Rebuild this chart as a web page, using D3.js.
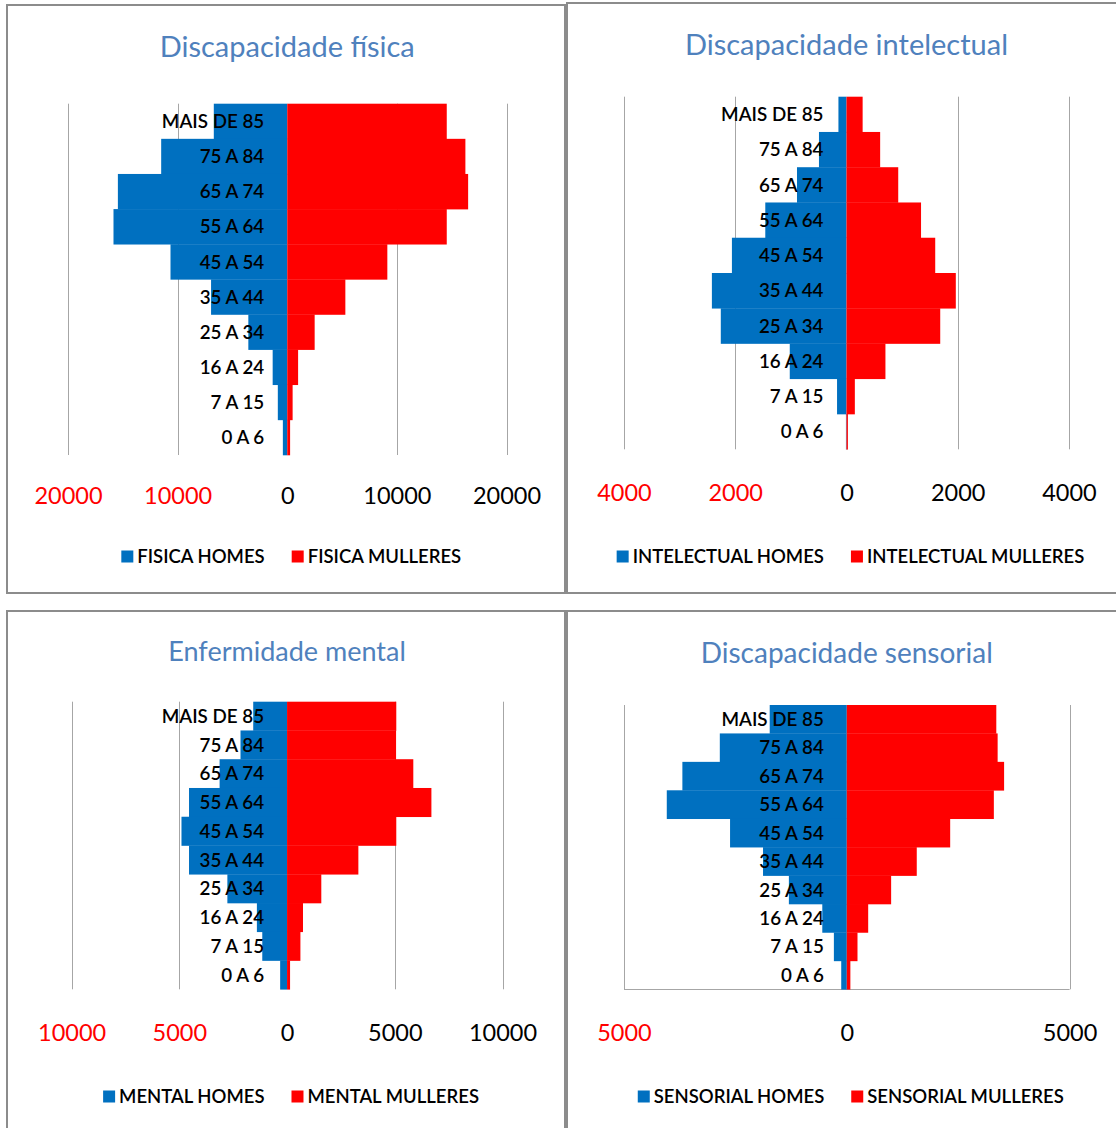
<!DOCTYPE html>
<html>
<head>
<meta charset="utf-8">
<script src="https://cdn.jsdelivr.net/npm/d3@7"></script>
<style>
  html, body { margin: 0; padding: 0; background: #fff; }
  svg { display: block; }
  text { font-family: Lato, "Open Sans", sans-serif; }
</style>
</head>
<body>
<svg id="chart" width="1116" height="1128"></svg>
<script>
// ---------------- DATA ----------------
const categories = ["MAIS DE 85", "75 A 84", "65 A 74", "55 A 64", "45 A 54", "35 A 44", "25 A 34", "16 A 24", "7 A 15", "0 A 6"];

const fisicaHomes      = [6700, 11500, 15450, 15850, 10650, 6950, 3550, 1330, 860, 400];
const fisicaMulleres   = [14550, 16250, 16500, 14550, 9130, 5300, 2500, 990, 490, 260];

const intelectualHomes    = [145, 495, 890, 1460, 2060, 2420, 2260, 1020, 170, 10];
const intelectualMulleres = [290, 605, 930, 1340, 1595, 1965, 1685, 700, 150, 25];

const mentalHomes    = [1570, 2160, 3130, 4550, 4900, 4550, 2770, 1400, 1150, 320];
const mentalMulleres = [5070, 5060, 5860, 6700, 5070, 3310, 1590, 740, 620, 140];

const sensorialHomes    = [1730, 2850, 3690, 4040, 2620, 1880, 1300, 550, 290, 125];
const sensorialMulleres = [3355, 3385, 3530, 3300, 2320, 1570, 995, 480, 240, 80];

const fisicaTicks      = [-20000, -10000, 0, 10000, 20000];
const intelectualTicks = [-4000, -2000, 0, 2000, 4000];
const mentalTicks      = [-10000, -5000, 0, 5000, 10000];
const sensorialTicks   = [-5000, 0, 5000];

const titles = ["Discapacidade física", "Discapacidade intelectual", "Enfermidade mental", "Discapacidade sensorial"];
const legendHomes    = ["FISICA HOMES", "INTELECTUAL HOMES", "MENTAL HOMES", "SENSORIAL HOMES"];
const legendMulleres = ["FISICA MULLERES", "INTELECTUAL MULLERES", "MENTAL MULLERES", "SENSORIAL MULLERES"];

// ---------------- LAYOUT ----------------
const BLUE = "#0070C0", RED = "#FF0000";
const layout = [
  { box: [7, 5, 558, 588],   xr: [68, 506.5],  yr: [103.7, 455],   titleY: 57,  titleSize: 29, tickGap: 41, legendY: 556.5, bottomLine: false },
  { box: [567, 3, 560, 590], xr: [624, 1069],  yr: [96.7, 449.3],  titleY: 55,  titleSize: 29, tickGap: 43, legendY: 556.5, bottomLine: false },
  { box: [7, 611, 558, 530], xr: [71.6, 502.5], yr: [701.7, 989.3], titleY: 661, titleSize: 27, tickGap: 43, legendY: 1096.5, bottomLine: false },
  { box: [567, 611, 560, 530], xr: [624, 1069.6], yr: [705, 989.3], titleY: 663, titleSize: 28, tickGap: 43, legendY: 1096.5, bottomLine: true }
];

const panels = [
  { homes: fisicaHomes, mulleres: fisicaMulleres, ticks: fisicaTicks },
  { homes: intelectualHomes, mulleres: intelectualMulleres, ticks: intelectualTicks },
  { homes: mentalHomes, mulleres: mentalMulleres, ticks: mentalTicks },
  { homes: sensorialHomes, mulleres: sensorialMulleres, ticks: sensorialTicks }
];

const svg = d3.select("#chart");

panels.forEach((p, i) => {
  const L = layout[i];
  const g = svg.append("g");
  const maxT = d3.max(p.ticks);

  // border
  g.append("rect")
    .attr("x", L.box[0]).attr("y", L.box[1])
    .attr("width", L.box[2]).attr("height", L.box[3])
    .attr("fill", "none").attr("stroke", "#8c8c8c").attr("stroke-width", 2);

  const x = d3.scaleLinear().domain([-maxT, maxT]).range(L.xr);
  const y = d3.scaleBand().domain(categories).range(L.yr).paddingInner(0).paddingOuter(0);

  // title
  g.append("text")
    .attr("x", x(0)).attr("y", L.titleY)
    .attr("text-anchor", "middle")
    .attr("fill", "#4F81BD")
    .attr("font-size", L.titleSize)
    .text(titles[i]);

  // gridlines
  g.selectAll("line.grid")
    .data(p.ticks.filter(t => t !== 0))
    .join("line")
    .attr("class", "grid")
    .attr("x1", d => Math.round(x(d)) + 0.5).attr("x2", d => Math.round(x(d)) + 0.5)
    .attr("y1", L.yr[0]).attr("y2", L.yr[1])
    .attr("stroke", "#a6a6a6").attr("stroke-width", 1);

  if (L.bottomLine) {
    g.append("line")
      .attr("x1", x(-maxT)).attr("x2", x(maxT))
      .attr("y1", Math.round(L.yr[1]) + 0.5).attr("y2", Math.round(L.yr[1]) + 0.5)
      .attr("stroke", "#a6a6a6").attr("stroke-width", 1);
  }

  // bars
  g.selectAll("rect.homes")
    .data(categories.map((c, k) => ({ c, v: p.homes[k] })))
    .join("rect")
    .attr("class", "homes")
    .attr("x", d => x(-d.v)).attr("width", d => x(0) - x(-d.v))
    .attr("y", d => y(d.c)).attr("height", y.bandwidth() + 0.3)
    .attr("fill", BLUE);

  g.selectAll("rect.mulleres")
    .data(categories.map((c, k) => ({ c, v: p.mulleres[k] })))
    .join("rect")
    .attr("class", "mulleres")
    .attr("x", x(0)).attr("width", d => x(d.v) - x(0))
    .attr("y", d => y(d.c)).attr("height", y.bandwidth() + 0.3)
    .attr("fill", RED);

  // category labels
  g.selectAll("text.cat")
    .data(categories)
    .join("text")
    .attr("class", "cat")
    .attr("x", x(0) - 23)
    .attr("y", d => y(d) + y.bandwidth() / 2)
    .attr("dy", "0.36em")
    .attr("text-anchor", "end")
    .attr("font-size", 18.8)
    .attr("font-weight", 600)
    .attr("fill", "#000")
    .text(d => d);

  // value axis
  const axis = d3.axisBottom(x).tickValues(p.ticks).tickSize(0).tickFormat(d => String(Math.abs(d)));
  const ax = g.append("g").attr("transform", `translate(0,${L.yr[1] + L.tickGap})`).call(axis);
  ax.select(".domain").remove();
  ax.selectAll("text")
    .attr("y", 0).attr("dy", "0.36em")
    .attr("font-size", 23.5)
    .attr("font-family", "Lato, 'Open Sans', sans-serif")
    .attr("fill", d => d < 0 ? RED : "#000");

  // legend
  const lg = g.append("g");
  const items = [{ t: legendHomes[i], c: BLUE }, { t: legendMulleres[i], c: RED }];
  let cx = 0;
  items.forEach((it, k) => {
    lg.append("rect").attr("x", cx).attr("y", -6).attr("width", 12).attr("height", 12).attr("fill", it.c);
    const t = lg.append("text").attr("x", cx + 16).attr("y", 0).attr("dy", "0.36em")
      .attr("font-size", 18.5).attr("font-weight", 600).attr("fill", "#000").text(it.t);
    cx += 16 + t.node().getComputedTextLength() + (k === 0 ? 27 : 0);
  });
  lg.attr("transform", `translate(${x(0) + 4 - cx / 2},${L.legendY})`);
});
</script>
</body>
</html>
